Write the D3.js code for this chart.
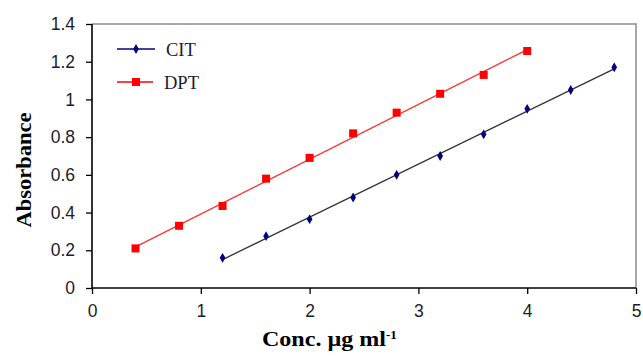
<!DOCTYPE html>
<html><head><meta charset="utf-8">
<script src="https://cdn.jsdelivr.net/npm/d3@7"></script>
<style>body{margin:0;background:#fff}svg{display:block}</style>
</head><body>
<svg id="c" width="643" height="356"></svg>
<script>
const concCIT = [1.2, 1.6, 2.0, 2.4, 2.8, 3.2, 3.6, 4.0, 4.4, 4.8];
const absCIT  = [0.16, 0.275, 0.365, 0.48, 0.60, 0.70, 0.815, 0.95, 1.05, 1.17];
const concDPT = [0.4, 0.8, 1.2, 1.6, 2.0, 2.4, 2.8, 3.2, 3.6, 4.0];
const absDPT  = [0.21, 0.33, 0.435, 0.58, 0.69, 0.82, 0.93, 1.03, 1.13, 1.257];
const xTicks = [0, 1, 2, 3, 4, 5];
const yTicks = [0, 0.2, 0.4, 0.6, 0.8, 1, 1.2, 1.4];

const svg = d3.select("#c");
const L = 92, R = 636, T = 24, B = 288;
const x = d3.scaleLinear().domain([0, 5]).range([L, R]);
const y = d3.scaleLinear().domain([0, 1.4]).range([B, T]);

svg.append("path").attr("d", `M${L},${T}H${R}V${B}`).attr("fill","none").attr("stroke","#8c8c8c").attr("stroke-width",1.5);

const yAxis = svg.append("g").attr("transform",`translate(${L},0)`)
  .call(d3.axisLeft(y).tickValues(yTicks).tickSize(6).tickPadding(11).tickFormat(d=>String(+d.toFixed(1))));
const xAxis = svg.append("g").attr("transform",`translate(0,${B})`)
  .call(d3.axisBottom(x).tickValues(xTicks).tickSize(6).tickPadding(11).tickFormat(d3.format("d")));
[yAxis,xAxis].forEach(g=>{
  g.select(".domain").attr("stroke","#000").attr("stroke-width",1.6);
  g.selectAll(".tick line").attr("stroke","#000").attr("stroke-width",1.3);
  g.selectAll("text").attr("font-family","Liberation Sans, Arial, sans-serif").attr("font-size",17.5).attr("fill","#1c1c2c");
});
yAxis.select(".domain").attr("d",`M0,${B}V${T}`);
xAxis.select(".domain").attr("d",`M${L},0H${R}`);

function fit(xs, ys){
  const mx=d3.mean(xs), my=d3.mean(ys);
  let sxy=0,sxx=0; xs.forEach((v,i)=>{sxy+=(v-mx)*(ys[i]-my);sxx+=(v-mx)*(v-mx);});
  const b=sxy/sxx, a=my-b*mx; return v=>a+b*v;
}
const fC = fit(concCIT, absCIT), fD = fit(concDPT, absDPT);
const line = d3.line().x(d=>x(d[0])).y(d=>y(d[1]));
svg.append("path").attr("d", line(d3.extent(concDPT).map(v=>[v,fD(v)]))).attr("stroke","#ff3333").attr("stroke-width",1.3).attr("fill","none");
svg.append("path").attr("d", line(d3.extent(concCIT).map(v=>[v,fC(v)]))).attr("stroke","#333").attr("stroke-width",1.3).attr("fill","none");

const diamond = d3.symbol().type(d3.symbolDiamond).size(28);
svg.append("g").selectAll("path").data(concCIT.map((c,i)=>[c,absCIT[i]])).join("path")
  .attr("d", diamond).attr("transform",d=>`translate(${x(d[0])},${y(d[1])})`).attr("fill","#000080");
svg.append("g").selectAll("rect").data(concDPT.map((c,i)=>[c,absDPT[i]])).join("rect")
  .attr("x",d=>x(d[0])-4).attr("y",d=>y(d[1])-4).attr("width",8).attr("height",8).attr("fill","#ff0000");

const lg = svg.append("g");
lg.append("line").attr("x1",117).attr("x2",155).attr("y1",49).attr("y2",49).attr("stroke","#000080").attr("stroke-width",1.3);
lg.append("path").attr("d",diamond).attr("transform","translate(136,49)").attr("fill","#000080");
lg.append("text").attr("x",166).attr("y",56).text("CIT");
lg.append("line").attr("x1",117).attr("x2",153).attr("y1",82).attr("y2",82).attr("stroke","#ff0000").attr("stroke-width",1.3);
lg.append("rect").attr("x",132).attr("y",78).attr("width",8).attr("height",8).attr("fill","#ff0000");
lg.append("text").attr("x",164).attr("y",89).text("DPT");
lg.selectAll("text").attr("font-family","Liberation Serif, Times New Roman, serif").attr("font-size",18.5).attr("fill","#1c1c2c");

svg.append("text").attr("transform","translate(31,170) rotate(-90)").attr("text-anchor","middle")
  .attr("font-family","Liberation Serif, Times New Roman, serif").attr("font-weight","bold").attr("font-size",20)
  .attr("textLength",115).attr("lengthAdjust","spacingAndGlyphs").text("Absorbance");
const xt = svg.append("text").attr("x",262).attr("y",346)
  .attr("font-family","Liberation Serif, Times New Roman, serif").attr("font-weight","bold").attr("font-size",20);
xt.append("tspan").attr("textLength",124).attr("lengthAdjust","spacingAndGlyphs").text("Conc.  µg ml");
xt.append("tspan").attr("dy",-7).attr("font-size",13).text("-1");
</script>
</body></html>
